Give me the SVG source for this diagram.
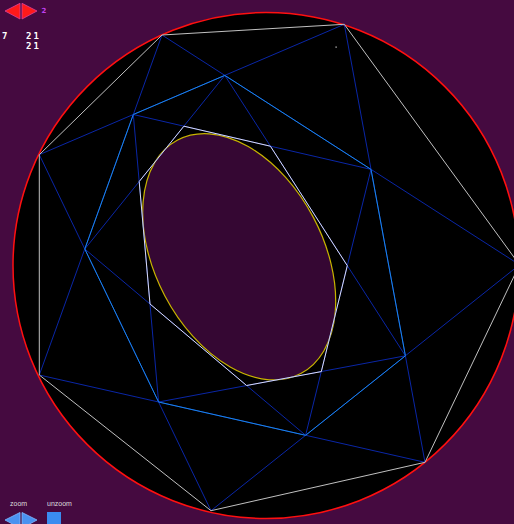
<svg xmlns="http://www.w3.org/2000/svg" width="514" height="524" viewBox="0 0 514 524">
<style>
.outer{fill:none;stroke:#c0c0c0;stroke-width:1}
.diag{fill:none;stroke:#0a26a6;stroke-width:1}
.mid{fill:none;stroke:#1a86e8;stroke-width:1}
.inner{fill:none;stroke:#dcdcf0;stroke-width:1}
.num{font-family:"DejaVu Sans Mono",monospace;font-weight:bold;font-size:9px;fill:#ffffff;letter-spacing:2px}
.small{font-family:"Liberation Sans",Arial,sans-serif;font-size:7px;fill:#dcdcdc}
.redtri{fill:#ff1a1a;stroke:#e0409a;stroke-width:0.8}
.bluetri{fill:#4a92f0;stroke:#80b8ff;stroke-width:0.8}
</style>
<rect x="0" y="0" width="514" height="524" fill="#450a40"/>
<g id="circle">
<circle cx="266" cy="265.5" r="253" fill="#000000" stroke="#ff1010" stroke-width="1.5"/>
</g>
<g id="ellipse">
<ellipse cx="239.2" cy="256.8" rx="132" ry="84" transform="rotate(62.2 239.2 256.8)" fill="#350733" stroke="#c8b400" stroke-width="1.2"/>
</g>
<g id="connectors">
<g id="outer-diagonals">
<line class="diag" x1="162" y1="35" x2="519.5" y2="264.8"/>
<line class="diag" x1="344.3" y1="24.3" x2="425" y2="462.3"/>
<line class="diag" x1="519.5" y1="264.8" x2="211" y2="510.7"/>
<line class="diag" x1="425" y1="462.3" x2="39.3" y2="375"/>
<line class="diag" x1="211" y1="510.7" x2="39.3" y2="154.7"/>
<line class="diag" x1="39.3" y1="375" x2="162" y2="35"/>
<line class="diag" x1="39.3" y1="154.7" x2="344.3" y2="24.3"/>
</g>
<g id="middle-diagonals">
<line class="diag" x1="224.8" y1="75.4" x2="84.8" y2="249"/>
<line class="diag" x1="133.3" y1="114.5" x2="158.6" y2="402"/>
<line class="diag" x1="84.8" y1="249" x2="305.6" y2="435.3"/>
<line class="diag" x1="158.6" y1="402" x2="405.4" y2="355.8"/>
<line class="diag" x1="305.6" y1="435.3" x2="371" y2="169.4"/>
<line class="diag" x1="405.4" y1="355.8" x2="224.8" y2="75.4"/>
<line class="diag" x1="371" y1="169.4" x2="133.3" y2="114.5"/>
</g>
</g>
<g id="outer-heptagon">
<polygon class="outer" points="162,35 344.3,24.3 519.5,264.8 425,462.3 211,510.7 39.3,375 39.3,154.7"/>
</g>
<g id="middle-heptagon">
<polygon class="mid" points="224.8,75.4 133.3,114.5 84.8,249 158.6,402 305.6,435.3 405.4,355.8 371,169.4"/>
</g>
<g id="inner-heptagon">
<polygon class="inner" points="183.9,126.2 270.4,146.2 347.3,265.7 321.3,371.6 246.6,385.5 150,304 139.2,181.5"/>
</g>
<g id="dot">
<rect x="335.5" y="46.5" width="1.2" height="1.2" fill="#e0e0e0"/>
</g>
<g id="top-controls">
<polygon class="redtri" points="5,11 20,3.3 20,19"/>
<polygon class="redtri" points="22,3.3 37,11 22,19"/>
<text x="41.5" y="13.2" font-family="'DejaVu Sans',sans-serif" font-weight="bold" font-size="7" fill="#c040f0">2</text>
<text class="num" x="2" y="39">7</text>
<text class="num" x="26" y="39">21</text>
<text class="num" x="26" y="49">21</text>
</g>
<g id="bottom-controls">
<text class="small" x="10" y="506">zoom</text>
<text class="small" x="47" y="506">unzoom</text>
<polygon class="bluetri" points="5,520 20,512.5 20,528"/>
<polygon class="bluetri" points="22,512.5 37,520 22,528"/>
<rect x="47" y="512" width="14" height="14" fill="#3a8cf0"/>
</g>
</svg>
